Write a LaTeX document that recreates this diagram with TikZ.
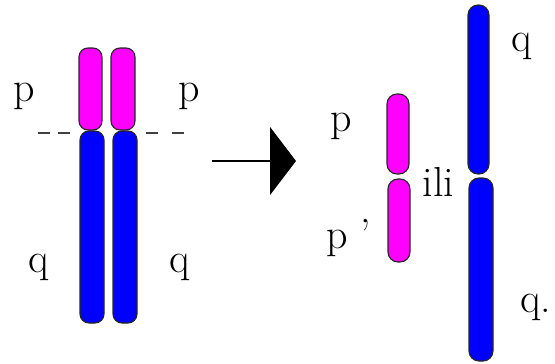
\documentclass[tikz,border=0pt]{standalone}
\usepackage{fontspec}
\usetikzlibrary{arrows.meta}
\definecolor{armp}{RGB}{255,0,255}
\definecolor{armq}{RGB}{0,0,255}
\begin{document}
\begin{tikzpicture}[x=1pt,y=-1pt,
    arm/.style={draw=black!85,line width=1.1pt,rounded corners=9pt,inner sep=0pt},
    parm/.style={arm,fill=armp},
    qarm/.style={arm,fill=armq},
    cutline/.style={draw=black!75,line width=1.3pt,dash pattern=on 12pt off 8pt},
    lbl/.style={anchor=base,inner sep=0pt,font=\fontsize{42}{42}\selectfont}]
    \useasboundingbox (0,0) rectangle (555,364);
    \coordinate (cutL) at (38,133);
    \coordinate (cutLe) at (72,133);
    \coordinate (cutRs) at (146,133);
    \coordinate (cutR) at (184,133);
    \draw[cutline] (cutL)--(cutLe);
    \draw[cutline,dash pattern=on 12pt off 14pt] (cutRs)--(cutR);
    \node[parm,minimum width=23pt,minimum height=82pt] (lp1) at (90.5,89) {};
    \node[parm,minimum width=24pt,minimum height=82pt] (lp2) at (123,89) {};
    \node[qarm,minimum width=24pt,minimum height=192pt] (lq1) at (92,227) {};
    \node[qarm,minimum width=24pt,minimum height=192pt] (lq2) at (125,227) {};
    \node[lbl] (lpa) at (24,101) {p};
    \node[lbl] (lpb) at (189,101) {p};
    \node[lbl] (lqa) at (38.5,272) {q};
    \node[lbl] (lqb) at (180,272) {q};
    \coordinate (arrS) at (212,161);
    \coordinate (arrE) at (296,161);
    \draw[-{Triangle[length=26pt,width=68pt]},line width=1.2pt,black](arrS)--(arrE);
    \node[parm,minimum width=22pt,minimum height=80pt,rounded corners=10pt] (rp1) at (398,134) {};
    \node[parm,minimum width=22pt,minimum height=83pt,rounded corners=10pt] (rp2) at (399,220.5) {};
    \node[qarm,minimum width=21pt,minimum height=169pt,rounded corners=10pt] (rq1) at (478.5,89.5) {};
    \node[qarm,minimum width=24pt,minimum height=183pt,rounded corners=10pt] (rq2) at (481,269.5) {};
    \node[lbl] (rpa) at (341,131) {p};
    \node[lbl] (rpb) at (349,248) {p ’};
    \node[lbl] (ili) at (438.5,196) {ili};
    \node[lbl] (rqa) at (521.5,51) {q};
    \node[lbl] (rqb) at (535.5,312) {q.};
\end{tikzpicture}
\end{document}
